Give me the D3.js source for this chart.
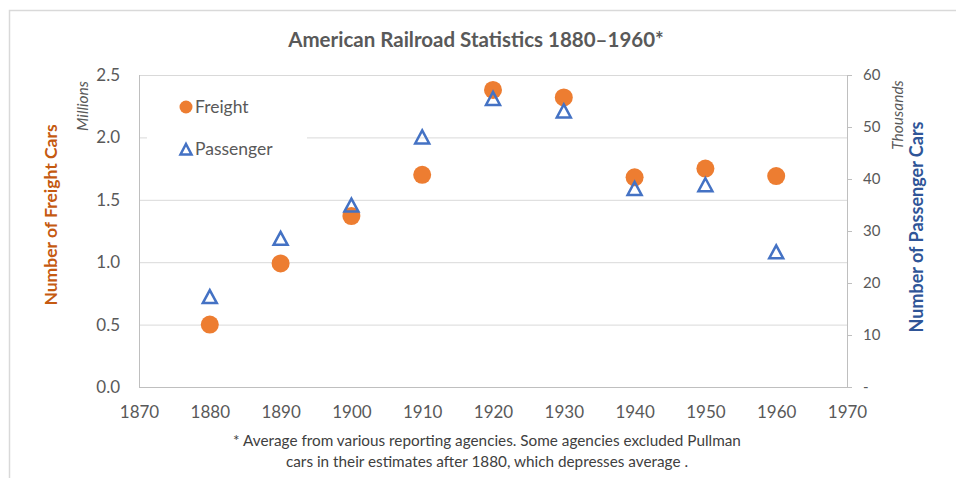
<!DOCTYPE html>
<html>
<head>
<meta charset="utf-8">
<script src="https://cdn.jsdelivr.net/npm/d3@7"></script>
<style>
  html, body { margin: 0; padding: 0; background: #fff; }
  svg { display: block; }
  text { font-family: Lato, "Open Sans", sans-serif; }
</style>
</head>
<body>
<svg id="chart" width="956" height="478"></svg>
<script>
const years = [1880, 1890, 1900, 1910, 1920, 1930, 1940, 1950, 1960];
const freight = [0.50, 0.99, 1.37, 1.70, 2.38, 2.32, 1.68, 1.75, 1.69];      // millions
const passenger = [17.2, 28.4, 34.8, 47.9, 55.3, 52.9, 38.0, 38.7, 25.8];   // thousands
const xTicks = [1870, 1880, 1890, 1900, 1910, 1920, 1930, 1940, 1950, 1960, 1970];
const yLeftTicks = [0, 0.5, 1.0, 1.5, 2.0, 2.5];
const yRightTicks = [0, 10, 20, 30, 40, 50, 60];
const title = "American Railroad Statistics 1880\u20131960*";
const footnote = ["* Average from various reporting agencies. Some agencies excluded Pullman",
                  "cars in their estimates after 1880, which depresses average ."];

const svg = d3.select("#chart");
const m = {left: 139, right: 847, top: 75, bottom: 387};

// outer frame
svg.append("rect").attr("x", 9.5).attr("y", 10.5).attr("width", 980).attr("height", 500)
  .attr("fill", "none").attr("stroke", "#d9d9d9").attr("stroke-width", 1.5);

const x = d3.scaleLinear().domain([1870, 1970]).range([m.left, m.right]);
const yL = d3.scaleLinear().domain([0, 2.5]).range([m.bottom, m.top]);
const yR = d3.scaleLinear().domain([0, 60]).range([m.bottom, m.top]);

// gridlines
svg.append("g").selectAll("line").data(yLeftTicks.filter(d => d > 0)).join("line")
  .attr("x1", m.left).attr("x2", m.right)
  .attr("y1", d => yL(d) + 0.5).attr("y2", d => yL(d) + 0.5)
  .attr("stroke", "#d9d9d9").attr("stroke-width", 1);

// left axis line and bottom line
svg.append("line").attr("x1", m.left + 0.5).attr("x2", m.left + 0.5).attr("y1", m.top).attr("y2", m.bottom)
  .attr("stroke", "#bfbfbf");
svg.append("line").attr("x1", m.left).attr("x2", m.right).attr("y1", m.bottom + 0.5).attr("y2", m.bottom + 0.5)
  .attr("stroke", "#bfbfbf");

// left axis labels
const gl = svg.append("g").attr("transform", `translate(${m.left - 19},0)`)
  .call(d3.axisLeft(yL).tickValues(yLeftTicks).tickFormat(d3.format(".1f")).tickSize(0).tickPadding(0));
gl.select(".domain").remove();
gl.selectAll("text").attr("fill", "#595959").style("font-size", "17px");

// right axis
const gr = svg.append("g").attr("transform", `translate(${m.right},0)`)
  .call(d3.axisRight(yR).tickValues(yRightTicks).tickFormat(d => d === 0 ? "-" : d).tickSize(5).tickPadding(11));
gr.select(".domain").attr("stroke", "#bfbfbf").attr("d", `M0.5,${m.top}V${m.bottom}`);
gr.selectAll(".tick line").attr("stroke", "#bfbfbf");
gr.selectAll("text").attr("fill", "#595959").style("font-size", "15px");

// bottom axis labels
const gb = svg.append("g").attr("transform", `translate(0,${m.bottom})`)
  .call(d3.axisBottom(x).tickValues(xTicks).tickFormat(d3.format("d")).tickSize(0).tickPadding(19));
gb.select(".domain").remove();
gb.selectAll("text").attr("fill", "#595959").style("font-size", "17px");

// legend background (hides gridline)
svg.append("rect").attr("x", 147).attr("y", 86).attr("width", 160).attr("height", 78).attr("fill", "#fff");

// marks
const triPath = "M0,-7.5L7,5.5L-7,5.5Z";
svg.append("g").selectAll("circle").data(years).join("circle")
  .attr("cx", (d) => x(d)).attr("cy", (d, i) => yL(freight[i])).attr("r", 9)
  .attr("fill", "#ED7D31");
svg.append("g").selectAll("path").data(years).join("path")
  .attr("transform", (d, i) => `translate(${x(d)},${yR(passenger[i])})`)
  .attr("d", triPath).attr("fill", "none").attr("stroke", "#4472C4").attr("stroke-width", 2.5)
  .attr("stroke-linejoin", "miter");

// legend
svg.append("circle").attr("cx", 186).attr("cy", 107).attr("r", 6.5).attr("fill", "#ED7D31");
svg.append("text").attr("x", 195).attr("y", 113).text("Freight").attr("fill", "#595959").style("font-size", "17.5px");
svg.append("path").attr("transform", "translate(186,150)").attr("d", "M0,-6L5.5,4.5L-5.5,4.5Z")
  .attr("fill", "none").attr("stroke", "#4472C4").attr("stroke-width", 2.5);
svg.append("text").attr("x", 195).attr("y", 155).text("Passenger").attr("fill", "#595959").style("font-size", "17.5px");

// title
svg.append("text").attr("x", 476).attr("y", 47).attr("text-anchor", "middle")
  .attr("fill", "#595959").style("font-size", "20.5px").style("font-weight", "bold").text(title);

// axis titles
svg.append("text").attr("transform", "translate(57,215) rotate(-90)").attr("text-anchor", "middle")
  .attr("fill", "#C55A11").style("font-size", "17.5px").style("font-weight", "bold").text("Number of Freight Cars");
svg.append("text").attr("transform", "translate(88,106) rotate(-90)").attr("text-anchor", "middle")
  .attr("fill", "#595959").style("font-size", "15.5px").style("font-style", "italic").text("Millions");
svg.append("text").attr("transform", "translate(923,227) rotate(-90)").attr("text-anchor", "middle")
  .attr("fill", "#2F5597").style("font-size", "18px").style("font-weight", "bold").text("Number of Passenger Cars");
svg.append("text").attr("transform", "translate(903,115) rotate(-90)").attr("text-anchor", "middle")
  .attr("fill", "#595959").style("font-size", "15.5px").style("font-style", "italic").text("Thousands");

// footnote
svg.append("g").selectAll("text").data(footnote).join("text")
  .attr("x", 487).attr("y", (d, i) => 446 + i * 21).attr("text-anchor", "middle")
  .attr("fill", "#404040").style("font-size", "15.3px").text(d => d);
</script>
</body>
</html>
